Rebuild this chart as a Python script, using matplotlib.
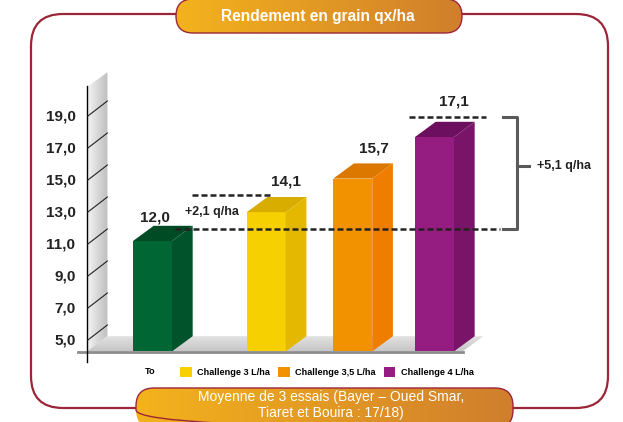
import numpy as np
import matplotlib
matplotlib.use('Agg')
import matplotlib.pyplot as plt
from matplotlib.patches import FancyBboxPatch, Polygon, Patch
from matplotlib.colors import LinearSegmentedColormap

plt.rcParams['font.family'] = ['Liberation Sans', 'DejaVu Sans']

# données
categories = ['To', 'Challenge 3 L/ha', 'Challenge 3,5 L/ha', 'Challenge 4 L/ha']
value_labels = [12.0, 14.1, 15.7, 17.1]      # valeurs affichées
bar_heights = [11.2, 13.0, 15.1, 17.7]
y_ticks = [5, 7, 9, 11, 13, 15, 17, 19]

# style / mise en page
front_col = ['#006633', '#F6D000', '#F29200', '#951C80']
side_col = ['#00532A', '#E4B800', '#EF7D00', '#7A1468']
top_col = ['#004A24', '#D8AD00', '#DC7800', '#6C0F5E']
bar_x = [0.0, 1.21, 2.13, 3.0]
lab_off = [(0.03, 0.55), (0.21, 0.95), (0.23, 0.95), (0.21, 1.3)]
W = 0.415
DX, DY = 0.22, 0.95
FLOOR = 4.3
WALL_X = -0.70
WALL_TOP = 20.8
RED = '#9B2638'


def gradient_fill(axis, patch, extent, c1, c2, vertical=False, z=1):
    axis.add_patch(patch)
    g = np.linspace(0, 1, 256)
    g = g.reshape(-1, 1) if vertical else g.reshape(1, -1)
    cmap = LinearSegmentedColormap.from_list('g', [c1, c2])
    im = axis.imshow(g, extent=extent, cmap=cmap, aspect='auto', origin='lower',
                     interpolation='bilinear', zorder=z)
    im.set_clip_path(patch)


fig = plt.figure(figsize=(6.23, 4.22), dpi=100)

# fond : cadre et pastilles (coordonnées pixels)
bg = fig.add_axes([0, 0, 1, 1])
bg.axis('off')
bg.add_patch(FancyBboxPatch((31, 14), 577, 394, boxstyle='round,pad=0,rounding_size=32',
                            fc='white', ec=RED, lw=1.6, zorder=1))
title_pill = FancyBboxPatch((176, -1), 286, 34, boxstyle='round,pad=0,rounding_size=17',
                            fc='none', ec=RED, lw=1.0, zorder=3)
gradient_fill(bg, title_pill, (176, 462, 33, -1), '#F4B31C', '#D07E2C', z=2)
bottom_pill = FancyBboxPatch((136, 388), 377, 40, boxstyle='round,pad=0,rounding_size=18',
                             fc='none', ec=RED, lw=1.0, zorder=3)
gradient_fill(bg, bottom_pill, (136, 513, 428, 388), '#F4B31C', '#D07E2C', z=2)
bg.set_xlim(0, 623)
bg.set_ylim(422, 0)
bg.text(318, 16, 'Rendement en grain qx/ha', color='white', fontsize=11.2,
        fontweight='bold', ha='center', va='center', zorder=5)
bg.text(331, 405, 'Moyenne de 3 essais (Bayer – Oued Smar,\nTiaret et Bouira : 17/18)',
        color='white', fontsize=10, ha='center', va='center', linespacing=1.2, zorder=5)

# graphique
ax = fig.add_axes([0, 0, 1, 1])
ax.patch.set_alpha(0)
ax.axis('off')

wall = Polygon([(WALL_X, FLOOR - DY), (WALL_X + DX, FLOOR), (WALL_X + DX, WALL_TOP),
                (WALL_X, WALL_TOP - DY)], closed=True, fc='none', ec='none')
gradient_fill(ax, wall, (WALL_X, WALL_X + DX, FLOOR - DY, WALL_TOP), '#F4F4F4', '#BEBEBE', z=1)
floor = Polygon([(WALL_X, FLOOR - DY), (3.3, FLOOR - DY), (3.3 + DX, FLOOR),
                 (WALL_X + DX, FLOOR)], closed=True, fc='none', ec='none')
gradient_fill(ax, floor, (WALL_X, 3.3 + DX, FLOOR - DY, FLOOR), '#C6C6C6', '#E4E4E4',
              vertical=True, z=1)

ax.plot([-0.79, 3.3], [FLOOR - DY - 0.05] * 2, color='#8C8C8C', lw=2, zorder=2)
ax.plot([WALL_X, WALL_X], [2.7, WALL_TOP - DY + 0.1], color='black', lw=1, zorder=2)

for t in y_ticks:
    ax.plot([WALL_X + 0.01, WALL_X + DX], [t - DY, t], color='#222222', lw=0.8, zorder=2)
    ax.text(WALL_X - 0.12, t - DY, f'{t:.1f}'.replace('.', ','), ha='right', va='center',
            fontsize=11, fontweight='bold', color='#222222')

heights = np.array(bar_heights)
ax.bar(bar_x, heights - FLOOR, bottom=FLOOR - DY, width=W, color=front_col, zorder=3)
for x, h, sc, tc in zip(bar_x, heights, side_col, top_col):
    l, r = x - W / 2, x + W / 2
    ax.add_patch(Polygon([(l, h - DY), (r, h - DY), (r + DX, h), (l + DX, h)],
                         closed=True, fc=tc, ec='none', zorder=3))
    ax.add_patch(Polygon([(r, FLOOR - DY), (r + DX, FLOOR), (r + DX, h), (r, h - DY)],
                         closed=True, fc=sc, ec='none', zorder=3))

for x, h, v, (ox, oy) in zip(bar_x, heights, value_labels, lab_off):
    ax.text(x + ox, h + oy, f'{v:.1f}'.replace('.', ','), ha='center', va='center',
            fontsize=11, fontweight='bold', color='#222222', zorder=5)

# lignes de référence et écarts
dash = dict(color='#222222', lw=1.8, dashes=(2.4, 1.2), zorder=4)
base_y = heights[0] - 0.2
y_mid = heights[1] + 0.1
y_high = heights[3] + 0.3
brk_x = 3.88
ax.plot([bar_x[0] + W / 2 + 0.03, brk_x - 0.18], [base_y] * 2, **dash)
ax.plot([bar_x[1] - 0.79, bar_x[1] + 0.04], [y_mid] * 2, **dash)
ax.plot([bar_x[3] - 0.27, bar_x[3] + 0.55], [y_high] * 2, **dash)

brk_mid = base_y + 0.56 * (y_high - base_y)
ax.plot([brk_x - 0.15, brk_x, brk_x, brk_x - 0.15], [y_high, y_high, base_y, base_y],
        color='#5A5A5A', lw=2.2, zorder=4)
ax.plot([brk_x, brk_x + 0.12], [brk_mid] * 2, color='#5A5A5A', lw=2.2, zorder=4)

gap1 = value_labels[1] - value_labels[0]
gap3 = value_labels[3] - value_labels[0]
ax.text(bar_x[1] - 0.58, (base_y + y_mid) / 2, f'+{gap1:.1f} q/ha'.replace('.', ','),
        ha='center', va='center', fontsize=9, fontweight='bold', color='#222222', zorder=5)
ax.text(brk_x + 0.21, brk_mid, f'+{gap3:.1f} q/ha'.replace('.', ','),
        ha='left', va='center', fontsize=9, fontweight='bold', color='#222222', zorder=5)

ax.set_xlim(-152.5 / 94, (623 - 152.5) / 94)
ax.set_ylim(5 - (422 - 325) / 16, 5 + 325 / 16)

# légende : témoin sans pastille, puis les trois doses
leg_prop = {'weight': 'bold', 'size': 6.6}
fig.legend([Patch(fc='none', ec='none')], categories[:1], loc='center',
           bbox_to_anchor=(150.5 / 623, 1 - 372 / 422), frameon=False, prop=leg_prop,
           handlelength=0, handletextpad=0)
fig.legend([Patch(fc=c, ec='none') for c in front_col[1:]], categories[1:], loc='center',
           bbox_to_anchor=(327 / 623, 1 - 372 / 422), ncol=3, frameon=False, prop=leg_prop,
           handlelength=1.25, handleheight=1.25, handletextpad=0.6, columnspacing=0.9)

fig.savefig('out.png', dpi=100, facecolor='white')
